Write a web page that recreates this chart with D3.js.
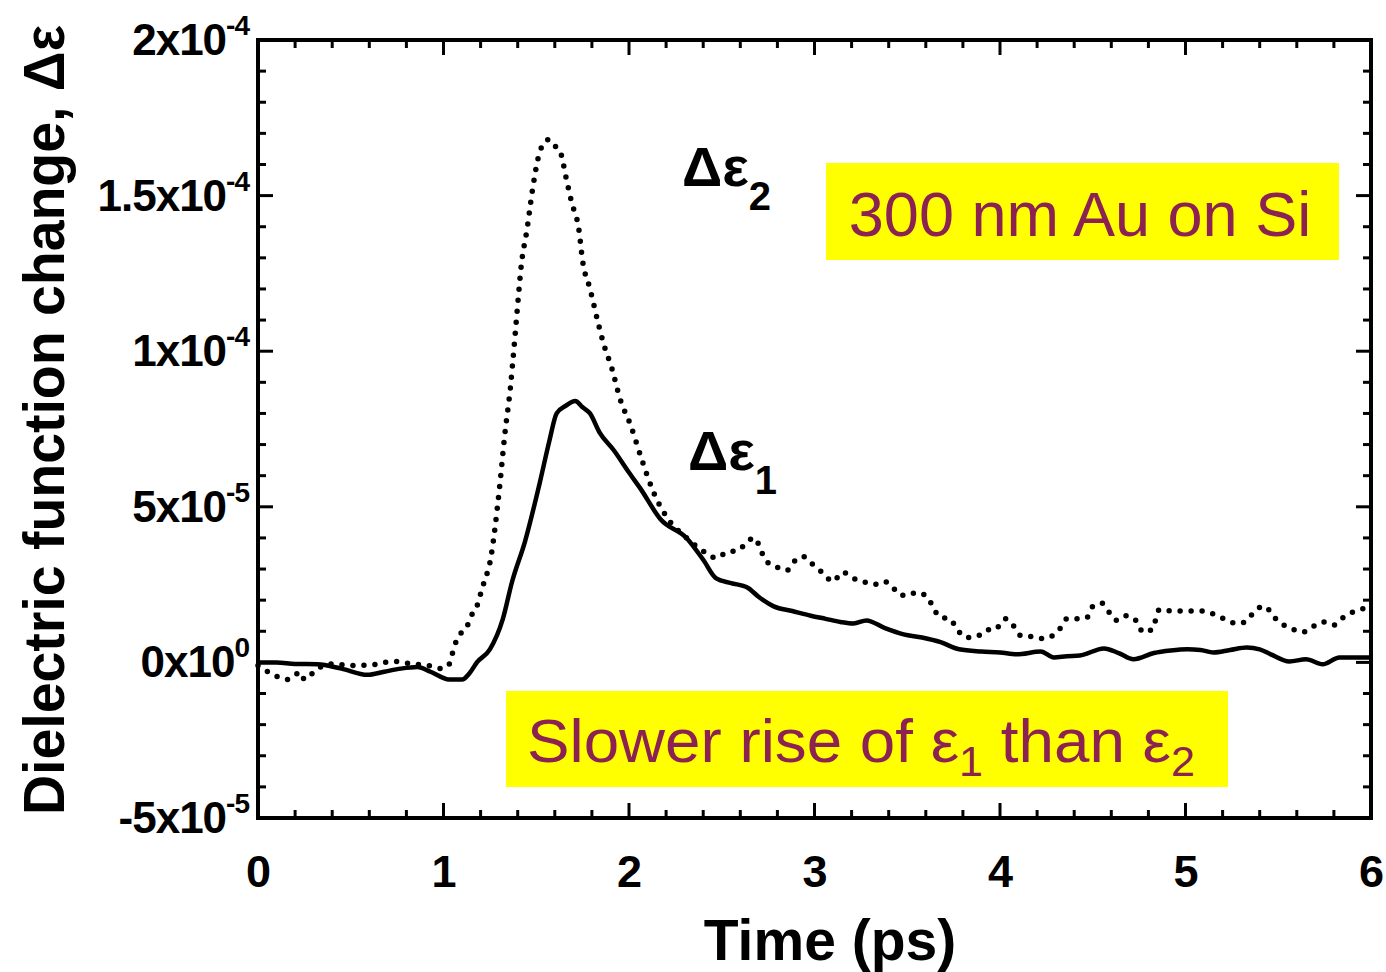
<!DOCTYPE html>
<html>
<head>
<meta charset="utf-8">
<script src="https://cdn.jsdelivr.net/npm/d3@7"></script>
<style>
  html, body { margin: 0; padding: 0; background: #ffffff; }
  svg { display: block; }
</style>
</head>
<body>
<svg id="chart" width="1386" height="972"></svg>
<script>
// ---------------- data (values in units of 1e-5) ----------------
const eps1Time = [0.00,0.10,0.20,0.32,0.45,0.59,0.68,0.77,0.86,0.93,1.03,1.10,1.14,1.18,1.25,1.32,1.37,1.44,1.52,1.57,1.61,1.66,1.71,1.75,1.79,1.84,1.92,2.00,2.06,2.17,2.31,2.40,2.47,2.55,2.64,2.70,2.78,2.88,2.98,3.06,3.14,3.21,3.28,3.38,3.48,3.58,3.68,3.78,3.90,4.00,4.09,4.22,4.29,4.36,4.43,4.56,4.64,4.72,4.83,4.92,5.01,5.08,5.15,5.24,5.33,5.40,5.46,5.56,5.65,5.74,5.83,5.92,6.00];
const eps1Value = [0.0,0.0,-0.05,-0.06,-0.2,-0.4,-0.3,-0.2,-0.15,-0.3,-0.55,-0.55,-0.35,0.0,0.42,1.4,2.6,3.9,5.8,7.1,8.0,8.25,8.4,8.2,8.0,7.4,6.8,6.1,5.6,4.6,4.0,3.3,2.7,2.55,2.4,2.1,1.8,1.65,1.5,1.4,1.3,1.25,1.35,1.1,0.9,0.8,0.65,0.42,0.35,0.32,0.26,0.35,0.16,0.2,0.22,0.45,0.3,0.1,0.3,0.38,0.42,0.4,0.32,0.4,0.48,0.42,0.26,0.03,0.1,-0.06,0.16,0.16,0.16];

const eps2Time = [0.00,0.06,0.16,0.23,0.25,0.32,0.40,0.50,0.64,0.68,0.73,0.84,0.92,0.99,1.03,1.06,1.09,1.13,1.15,1.18,1.20,1.22,1.25,1.30,1.33,1.36,1.38,1.40,1.42,1.45,1.48,1.51,1.55,1.57,1.60,1.63,1.66,1.69,1.73,1.75,1.79,1.83,1.86,1.91,1.95,2.01,2.07,2.13,2.20,2.31,2.42,2.47,2.53,2.59,2.64,2.68,2.71,2.75,2.80,2.85,2.90,2.94,2.99,3.04,3.10,3.15,3.21,3.26,3.32,3.37,3.42,3.45,3.50,3.55,3.61,3.64,3.68,3.73,3.77,3.82,3.88,3.93,3.97,4.03,4.07,4.11,4.16,4.22,4.26,4.32,4.36,4.42,4.47,4.50,4.55,4.59,4.63,4.68,4.74,4.77,4.82,4.86,4.93,5.02,5.09,5.13,5.19,5.24,5.29,5.34,5.38,5.43,5.47,5.53,5.58,5.63,5.68,5.74,5.80,5.84,5.88,5.94,6.00];
const eps2Value = [-0.1,-0.32,-0.55,-0.32,-0.55,-0.2,-0.05,-0.1,-0.06,0.0,0.03,-0.06,-0.1,-0.2,-0.06,0.55,0.9,1.2,1.5,1.8,2.2,2.6,3.2,5.5,7.3,8.8,10.1,11.5,12.8,13.9,15.2,16.2,16.75,16.8,16.6,16.4,15.6,14.8,13.9,12.9,12.0,11.0,10.3,9.4,8.5,7.6,6.5,5.5,4.7,4.0,3.5,3.35,3.55,3.6,3.9,4.0,3.6,3.2,3.05,2.95,3.3,3.4,3.15,2.9,2.6,2.9,2.7,2.6,2.5,2.6,2.45,2.2,2.15,2.25,2.1,1.75,1.45,1.4,1.05,0.8,0.85,1.05,1.05,1.4,1.2,0.87,0.84,0.77,0.8,1.06,1.4,1.4,1.45,1.8,1.9,1.6,1.35,1.5,1.3,0.97,1.06,1.7,1.65,1.65,1.65,1.6,1.45,1.3,1.25,1.4,1.7,1.8,1.5,1.2,1.06,0.97,1.13,1.3,1.2,1.4,1.55,1.7,1.75];

const xTicks = [0,1,2,3,4,5,6];
const yTicks = [-5,0,5,10,15,20];
const yTickMantissa = ["-5x10","0x10","5x10","1x10","1.5x10","2x10"];
const yTickExponent = ["-5","0","-5","-4","-4","-4"];

// ---------------- layout ----------------
const svg = d3.select("#chart");
const pLeft = 258, pRight = 1371, pTop = 40, pBottom = 818;
const x = d3.scaleLinear().domain([0, 6]).range([pLeft, pRight]);
const y = d3.scaleLinear().domain([-5, 20]).range([pBottom, pTop]);
const FONT = "'Liberation Sans', Arial, Helvetica, sans-serif";

// frame ticks (all four sides, inward)
const xMinor = d3.range(0, 6.001, 0.2);
const yMinor = d3.range(-5, 20.001, 1);
const tickG = svg.append("g").attr("stroke", "#000").attr("stroke-width", 3);
xMinor.forEach(v => {
  const major = Math.abs(v - Math.round(v)) < 1e-6;
  const len = major ? 15 : 8;
  tickG.append("line").attr("x1", x(v)).attr("x2", x(v)).attr("y1", pBottom).attr("y2", pBottom - len);
  tickG.append("line").attr("x1", x(v)).attr("x2", x(v)).attr("y1", pTop).attr("y2", pTop + len);
});
yMinor.forEach(v => {
  const major = Math.abs(v / 5 - Math.round(v / 5)) < 1e-6;
  const len = major ? 15 : 8;
  tickG.append("line").attr("x1", pLeft).attr("x2", pLeft + len).attr("y1", y(v)).attr("y2", y(v));
  tickG.append("line").attr("x1", pRight).attr("x2", pRight - len).attr("y1", y(v)).attr("y2", y(v));
});

svg.append("rect")
  .attr("x", pLeft).attr("y", pTop)
  .attr("width", pRight - pLeft).attr("height", pBottom - pTop)
  .attr("fill", "none").attr("stroke", "#000").attr("stroke-width", 4);

// x tick labels via d3 axis
const xAxis = svg.append("g")
  .attr("transform", `translate(0,${pBottom})`)
  .call(d3.axisBottom(x).tickValues(xTicks).tickFormat(d3.format("d")).tickSize(0).tickPadding(37));
xAxis.select(".domain").remove();
xAxis.selectAll("text")
  .attr("font-family", FONT).attr("font-size", 45).attr("font-weight", "bold").attr("fill", "#000");

// y tick labels (mantissa + superscript exponent)
const yLab = svg.append("g");
yTicks.forEach((v, i) => {
  const t = yLab.append("text")
    .attr("x", 249).attr("y", y(v) + 15)
    .attr("text-anchor", "end")
    .attr("font-family", FONT).attr("font-weight", "bold").attr("font-size", 44)
    .attr("letter-spacing", -1)
    .attr("fill", "#000");
  t.append("tspan").text(yTickMantissa[i]);
  t.append("tspan").attr("font-size", 28).attr("dy", -20).text(yTickExponent[i]);
});

// axis titles
svg.append("text")
  .attr("x", 830).attr("y", 960)
  .attr("text-anchor", "middle")
  .attr("font-family", FONT).attr("font-weight", "bold").attr("font-size", 57)
  .attr("fill", "#000")
  .text("Time (ps)");

svg.append("text")
  .attr("transform", `translate(64,${(25 + 815) / 2}) rotate(-90)`)
  .attr("text-anchor", "middle")
  .attr("font-family", FONT).attr("font-weight", "bold").attr("font-size", 57)
  .attr("textLength", 790).attr("lengthAdjust", "spacingAndGlyphs")
  .attr("fill", "#000")
  .text("Dielectric function change, Δε");

// ---------------- curves ----------------
const eps1 = eps1Time.map((t, i) => ({ t, v: eps1Value[i] }));
const eps2 = eps2Time.map((t, i) => ({ t, v: eps2Value[i] }));
const line = d3.line().x(d => x(d.t)).y(d => y(d.v)).curve(d3.curveMonotoneX);

svg.append("path").datum(eps2)
  .attr("d", line)
  .attr("fill", "none").attr("stroke", "#000")
  .attr("stroke-width", 5.5).attr("stroke-linecap", "round")
  .attr("stroke-dasharray", "0,11");

svg.append("path").datum(eps1)
  .attr("d", line)
  .attr("fill", "none").attr("stroke", "#000")
  .attr("stroke-width", 4.5).attr("stroke-linejoin", "round");

// curve labels
function curveLabel(px, py, sub) {
  const t = svg.append("text")
    .attr("x", px).attr("y", py)
    .attr("font-family", FONT).attr("font-weight", "bold").attr("font-size", 56)
    .attr("fill", "#000");
  t.append("tspan").text("Δε");
  t.append("tspan").attr("font-size", 40).attr("dy", 24).text(sub);
}
curveLabel(682, 186, "2");
curveLabel(688, 470, "1");

// ---------------- annotation boxes ----------------
const PURPLE = "#8B2252";
svg.append("rect").attr("x", 826).attr("y", 163).attr("width", 513).attr("height", 97).attr("fill", "#FFFF00");
svg.append("text")
  .attr("x", 1080).attr("y", 236)
  .attr("text-anchor", "middle")
  .attr("font-family", FONT).attr("font-size", 63).attr("fill", PURPLE)
  .text("300 nm Au on Si");

svg.append("rect").attr("x", 506).attr("y", 691).attr("width", 722).attr("height", 96).attr("fill", "#FFFF00");
const s = svg.append("text")
  .attr("x", 527).attr("y", 762)
  .attr("font-family", FONT).attr("font-size", 62).attr("fill", PURPLE)
  .attr("textLength", 668).attr("lengthAdjust", "spacingAndGlyphs");
s.append("tspan").text("Slower rise of ε");
s.append("tspan").attr("font-size", 42).attr("dy", 14).text("1");
s.append("tspan").attr("dy", -14).text(" than ε");
s.append("tspan").attr("font-size", 42).attr("dy", 14).text("2");
</script>
</body>
</html>
